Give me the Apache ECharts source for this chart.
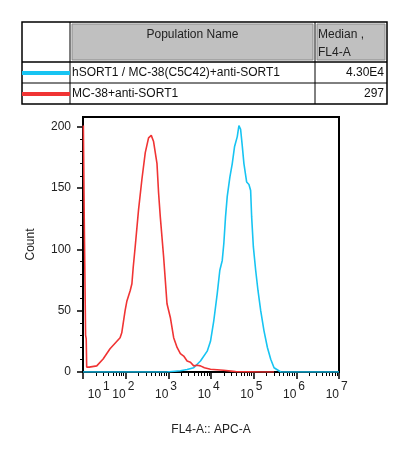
<!DOCTYPE html>
<html>
<head>
<meta charset="utf-8">
<script src="https://cdn.jsdelivr.net/npm/echarts@6/dist/echarts.min.js"></script>
<style>
	body{margin:0;background:#fff;}
	#main{width:401px;height:458px;}
</style>
</head>
<body>
<div id="main"></div>
<script>
// 表格数据
var populationNames = ['hSORT1 / MC-38(C5C42)+anti-SORT1', 'MC-38+anti-SORT1'];
var medianLabels = ['4.30E4', '297'];
var tableHeaders = ['Population Name', 'Median ,', 'FL4-A'];

// 直方图数据 (FL4-A, Count)
var sortFl4 = [10, 900, 931, 1915, 2754, 3937, 5662, 8150, 9730, 11640, 14000, 16100, 18350, 20000, 21900, 24000,
	27700, 31500, 35700, 41300, 45100, 49400, 54200, 59100, 68400, 77500, 84900, 89700, 98400, 111400,
	126200, 146200, 174600, 209900, 251000, 300500, 431600, 10000000];
var sortCount = [0, 0, 1, 1, 2, 3.5, 9, 17, 25, 42, 64, 83, 91, 105, 126.5, 143,
	159, 170, 184, 192, 201, 198, 184, 170, 155, 153, 148, 126.5, 102, 83,
	66.5, 50, 33.6, 20, 10.4, 3.5, 0, 0];

var mcFl4 = [10.2, 10.7, 11.3, 11.5, 11.9, 12.2, 14, 21, 29.6, 43, 74, 81, 97, 107, 128, 140, 150, 167, 200,
	240, 288, 344, 398, 451, 542, 591, 648, 775, 931, 1114, 1334, 1603, 1915, 2290, 2754, 3296, 3937,
	4700, 5662, 7000, 9730, 19700, 37700, 146000, 300000];
var mcCount = [201, 125, 124, 30, 27, 4, 4, 5, 10.6, 19, 28, 32, 50, 58, 66.5, 72, 85, 102, 132,
	157, 179, 191, 193, 188, 170, 146, 126.5, 94, 55.7, 44.5, 28, 20, 15, 13, 9, 8, 5,
	5.5, 5, 3.5, 2.2, 1.4, 0.3, 0, 0];

// 坐标轴刻度
var xDecades = [10, 100, 1000, 10000, 100000, 1000000, 10000000];
// 10^1 的标签在图上往右挪了一点
var xLabelAt = [26.5, 100, 1000, 10000, 100000, 1000000, 10000000];
var yMajor = [0, 50, 100, 150, 200];
var yMinor = [10, 20, 30, 40, 60, 70, 80, 90, 110, 120, 130, 140, 160, 170, 180, 190];

var cyan = '#17c4f2';
var red = '#f03434';
var font = 'Liberation Sans, Arial, sans-serif';

function zip(xs, ys){
	var out = [];
	for(var i=0;i<xs.length;i++){
		out.push([xs[i], ys[i]]);
	}
	return out;
}

var xMinor = [];
for(var d=0;d<xDecades.length-1;d++){
	for(var k=2;k<10;k++){
		xMinor.push(xDecades[d]*k);
	}
}

function chart(){
	var myChart = echarts.init(document.getElementById('main'));

	// 表格
	var gx0 = 22, gx1 = 70, gx2 = 315, gx3 = 387;
	var gy0 = 22, gy1 = 62, gy2 = 83, gy3 = 104;
	var rowY = [73, 94];
	var rowColors = [cyan, red];
	var table = [
		{type:'rect', shape:{x:gx0, y:gy0, width:gx3-gx0, height:gy3-gy0}, style:{fill:'#fff', stroke:'#000', lineWidth:1.5}},
		{type:'rect', shape:{x:gx1+2, y:gy0+2, width:gx2-gx1-4, height:gy1-gy0-4}, style:{fill:'#c0c0c0', stroke:'#8a8a8a', lineWidth:1}},
		{type:'rect', shape:{x:gx2+2, y:gy0+2, width:gx3-gx2-4, height:gy1-gy0-4}, style:{fill:'#c0c0c0', stroke:'#8a8a8a', lineWidth:1}},
		{type:'line', shape:{x1:gx1, y1:gy0, x2:gx1, y2:gy3}, style:{stroke:'#000', lineWidth:1}},
		{type:'line', shape:{x1:gx2, y1:gy0, x2:gx2, y2:gy3}, style:{stroke:'#000', lineWidth:1}},
		{type:'line', shape:{x1:gx0, y1:gy1, x2:gx3, y2:gy1}, style:{stroke:'#000', lineWidth:1.5}},
		{type:'line', shape:{x1:gx0, y1:gy2, x2:gx3, y2:gy2}, style:{stroke:'#000', lineWidth:1}},
		{type:'text', x:(gx1+gx2)/2, y:35, style:{text:tableHeaders[0], fill:'#222', font:'12px ' + font, align:'center', verticalAlign:'middle'}},
		{type:'text', x:gx2+3, y:35, style:{text:tableHeaders[1], fill:'#222', font:'12px ' + font, align:'left', verticalAlign:'middle'}},
		{type:'text', x:gx2+3, y:53, style:{text:tableHeaders[2], fill:'#222', font:'12px ' + font, align:'left', verticalAlign:'middle'}}
	];
	for(var i=0;i<populationNames.length;i++){
		table.push({type:'line', shape:{x1:gx0, y1:rowY[i], x2:gx1, y2:rowY[i]}, style:{stroke:rowColors[i], lineWidth:4}});
		table.push({type:'text', x:gx1+2, y:rowY[i], style:{text:populationNames[i], fill:'#111', font:'12px ' + font, align:'left', verticalAlign:'middle'}});
		table.push({type:'text', x:gx3-3, y:rowY[i], style:{text:medianLabels[i], fill:'#111', font:'12px ' + font, align:'right', verticalAlign:'middle'}});
	}

	var option = {
		animation: false,
		textStyle: {fontFamily: font},
		graphic: table,
		grid: {
			left: 83, top: 117, right: 62, bottom: 86,
			show: true, borderColor: '#000', borderWidth: 2, backgroundColor: '#fff'
		},
		xAxis: [
			{
				// 主刻度 + 底数 "10"
				type: 'log', logBase: 10, min: 10, max: 10000000, interval: 1,
				position: 'bottom',
				name: 'FL4-A:: APC-A', nameLocation: 'middle', nameGap: 52,
				nameTextStyle: {fontSize: 12, color: '#222', fontFamily: font},
				axisLine: {show: true, lineStyle: {color: '#000', width: 2}},
				axisTick: {show: true, length: 7, customValues: xDecades, lineStyle: {color: '#000', width: 1.5}},
				splitLine: {show: false},
				axisLabel: {
					customValues: xLabelAt,
					margin: 17, align: 'right',
					fontSize: 12, color: '#222', fontFamily: font,
					formatter: function(v){
						return '10';
					}
				}
			},
			{
				// 次刻度 + 指数
				type: 'log', logBase: 10, min: 10, max: 10000000,
				position: 'bottom',
				axisLine: {show: false},
				splitLine: {show: false},
				axisTick: {show: true, length: 4, customValues: xMinor, lineStyle: {color: '#000', width: 1}},
				axisLabel: {
					customValues: xLabelAt,
					margin: 9, align: 'left', padding: [0, 0, 0, 2],
					fontSize: 12, color: '#222', fontFamily: font,
					formatter: function(v){
						return '' + Math.round(Math.log10(v));
					}
				}
			}
		],
		yAxis: [
			{
				type: 'value', min: 0, max: 208,
				position: 'left',
				name: 'Count', nameLocation: 'middle', nameGap: 46,
				nameTextStyle: {fontSize: 12, color: '#222', fontFamily: font},
				axisLine: {show: true, lineStyle: {color: '#000', width: 2}},
				axisTick: {show: true, length: 6, customValues: yMajor, lineStyle: {color: '#000', width: 1.5}},
				axisLabel: {customValues: yMajor, margin: 12, fontSize: 12, color: '#222', fontFamily: font},
				splitLine: {show: false}
			},
			{
				type: 'value', min: 0, max: 208,
				position: 'left',
				axisLine: {show: false},
				axisLabel: {show: false},
				splitLine: {show: false},
				axisTick: {show: true, length: 3, customValues: yMinor, lineStyle: {color: '#000', width: 1}}
			}
		],
		series: [
			{
				name: populationNames[0], type: 'line', xAxisIndex: 0, yAxisIndex: 0,
				data: zip(sortFl4, sortCount), showSymbol: false, symbol: 'none',
				lineStyle: {color: cyan, width: 1.6}, z: 3
			},
			{
				name: populationNames[1], type: 'line', xAxisIndex: 0, yAxisIndex: 0,
				data: zip(mcFl4, mcCount), showSymbol: false, symbol: 'none',
				lineStyle: {color: red, width: 1.6}, z: 4
			}
		]
	};
	myChart.setOption(option);
}
chart();
</script>
</body>
</html>
